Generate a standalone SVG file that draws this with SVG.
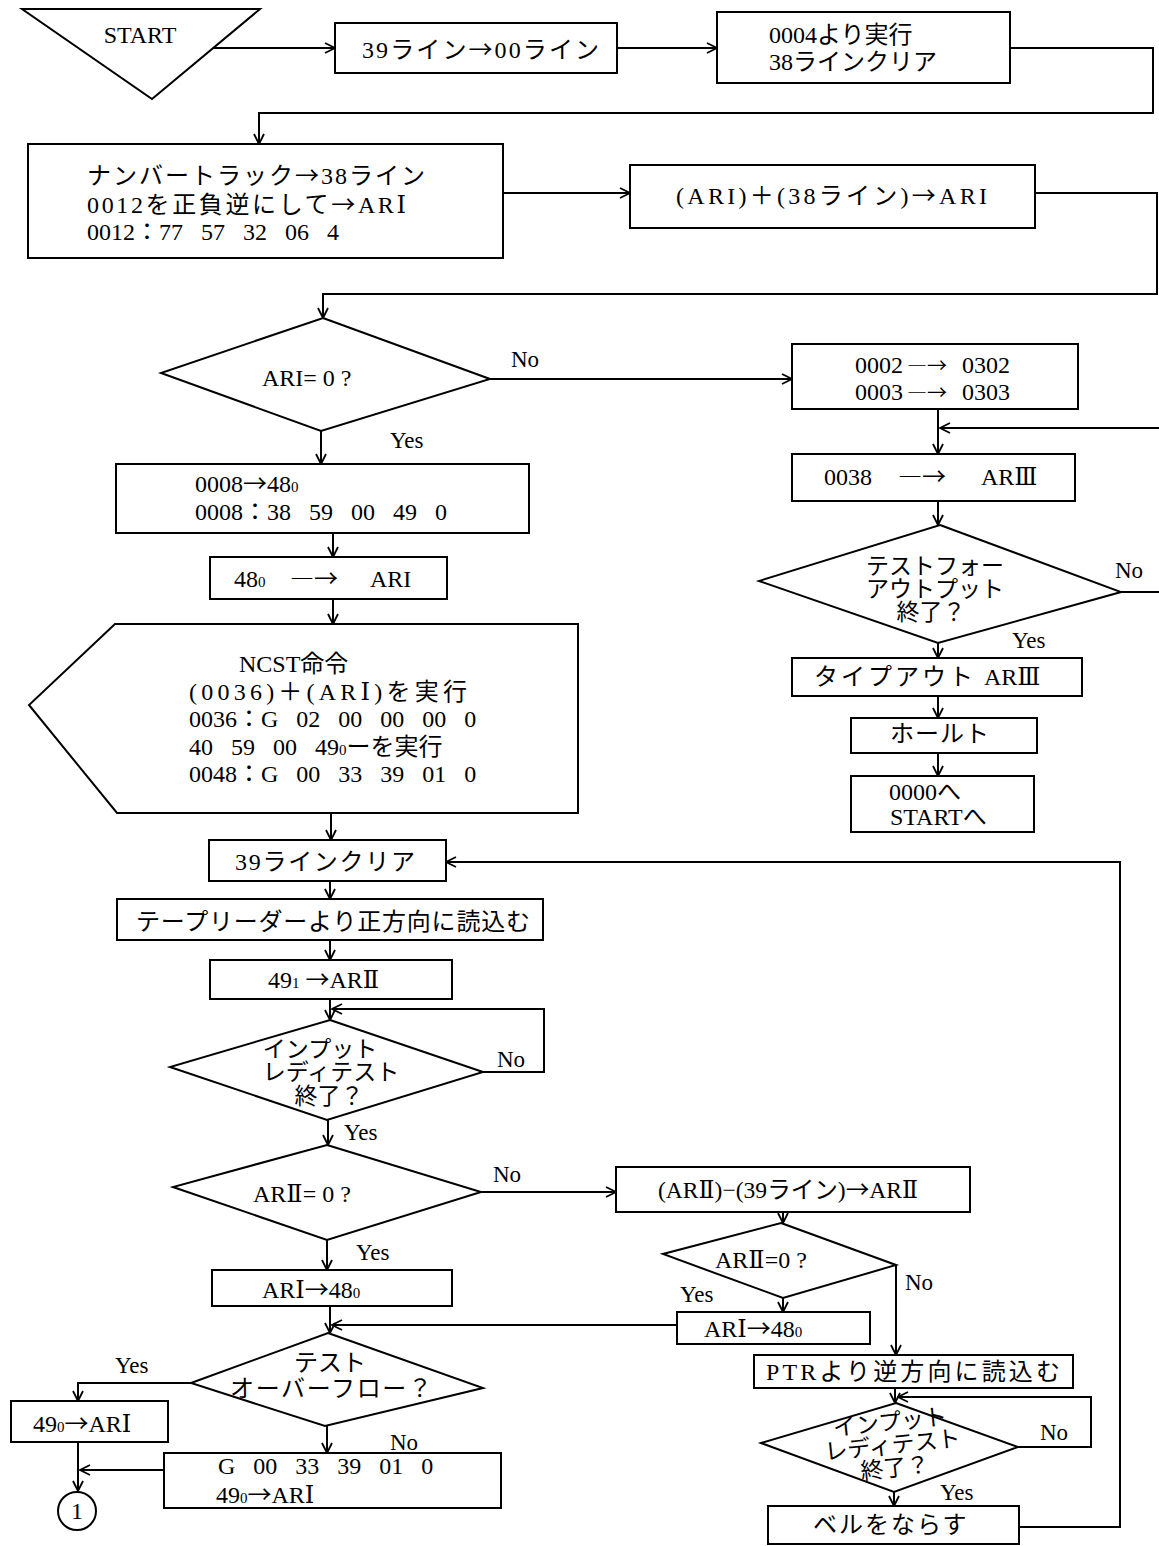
<svg xmlns="http://www.w3.org/2000/svg" width="1159" height="1546" viewBox="0 0 1159 1546">
<style>
.b{fill:#fff;stroke:#000;stroke-width:2}
.c{fill:none;stroke:#000;stroke-width:2}
.ar{marker-end:url(#a)}
text{font-family:'Liberation Serif','DejaVu Serif','Noto Sans CJK JP',serif;font-size:24px;fill:#000}
.j{font-family:'Noto Sans CJK JP',sans-serif}
.s{font-size:23px}
.n{word-spacing:12px}
.m{text-anchor:middle}
.sub{font-size:15px}
</style>
<defs>
<marker id="a" viewBox="0 0 12 12" refX="11" refY="6" markerWidth="12" markerHeight="12" markerUnits="userSpaceOnUse" orient="auto"><path d="M1,1 L11,6 L1,11" fill="none" stroke="#000" stroke-width="1.8"/></marker>
</defs>
<rect width="1159" height="1546" fill="#fff"/>
<g id="connectors" class="c">
<path class="ar" d="M213,48 H335"/>
<path class="ar" d="M617,48 H717"/>
<path class="ar" d="M1010,48 H1153 V113 H259 V144"/>
<path class="ar" d="M503,193 H630"/>
<path class="ar" d="M1035,193 H1157 V294 H323 V318"/>
<path class="ar" d="M490,379 H792"/>
<path class="ar" d="M321,431 V464"/>
<path class="ar" d="M333,533 V557"/>
<path class="ar" d="M333,599 V624"/>
<path class="ar" d="M331,813 V840"/>
<path class="ar" d="M330,881 V899"/>
<path class="ar" d="M330,940 V960"/>
<path class="ar" d="M330,999 V1020"/>
<path class="ar" d="M483,1072 H544 V1009 H332"/>
<path class="ar" d="M328,1120 V1145"/>
<path class="ar" d="M481,1192 H616"/>
<path class="ar" d="M327,1240 V1270"/>
<path class="ar" d="M330,1306 V1333"/>
<path class="ar" d="M677,1325 H332"/>
<path class="ar" d="M191,1383 H78 V1401"/>
<path class="ar" d="M327,1426 V1453"/>
<path class="ar" d="M78,1442 V1491"/>
<path class="ar" d="M164,1470 H80"/>
<path class="ar" d="M938,409 V454"/>
<path class="ar" d="M1159,428 H940"/>
<path class="ar" d="M938,501 V525"/>
<path d="M1121,592 H1159"/>
<path class="ar" d="M938,643 V658"/>
<path class="ar" d="M938,696 V718"/>
<path class="ar" d="M938,753 V776"/>
<path class="ar" d="M783,1212 V1223"/>
<path class="ar" d="M783,1298 V1312"/>
<path class="ar" d="M896,1265 V1355"/>
<path class="ar" d="M895,1388 V1403"/>
<path class="ar" d="M1018,1447 H1091 V1397 H898"/>
<path class="ar" d="M894,1492 V1506"/>
<path class="ar" d="M1019,1527 H1120 V862 H446"/>
</g>
<g id="labels">
<text class="s" x="511" y="367">No</text>
<text class="s" x="390" y="448">Yes</text>
<text class="s" x="1115" y="578">No</text>
<text class="s" x="1012" y="648">Yes</text>
<text class="s" x="497" y="1067">No</text>
<text class="s" x="344" y="1140">Yes</text>
<text class="s" x="493" y="1182">No</text>
<text class="s" x="356" y="1260">Yes</text>
<text class="s" x="905" y="1290">No</text>
<text class="s" x="680" y="1302">Yes</text>
<text class="s" x="115" y="1373">Yes</text>
<text class="s" x="390" y="1450">No</text>
<text class="s" x="1040" y="1440">No</text>
<text class="s" x="940" y="1500">Yes</text>
</g>
<g id="start"><polygon class="b" points="22,9 260,9 152,99"/><text class="m" x="140" y="43">START</text></g>
<g id="n1"><rect class="b" x="335" y="23" width="282" height="50"/><text x="362" y="58" textLength="237" lengthAdjust="spacing">39ライン<tspan class="j">→</tspan>00ライン</text></g>
<g id="n2"><rect class="b" x="717" y="12" width="293" height="71"/><text x="769" y="43">0004より実行</text><text x="769" y="70">38ラインクリア</text></g>
<g id="n3"><rect class="b" x="28" y="144" width="475" height="114"/>
<text x="87" y="184" textLength="338" lengthAdjust="spacing">ナンバートラック<tspan class="j">→</tspan>38ライン</text>
<text x="87" y="213" textLength="319" lengthAdjust="spacing">0012を正負逆にして<tspan class="j">→</tspan>ARⅠ</text>
<text class="n" x="87" y="240">0012：77 57 32 06 4</text></g>
<g id="n4"><rect class="b" x="630" y="165" width="405" height="63"/><text x="676" y="204" textLength="311" lengthAdjust="spacing">(ARI)＋(38ライン)<tspan class="j">→</tspan>ARI</text></g>
<g id="d1"><polygon class="b" points="323,318 490,379 321,431 161,373"/><text x="262" y="386">ARI= 0 ?</text></g>
<g id="n5"><rect class="b" x="116" y="464" width="413" height="69"/><text x="195" y="492">0008<tspan class="j">→</tspan>48<tspan class="sub">0</tspan></text><text class="n" x="195" y="520">0008：38 59 00 49 0</text></g>
<g id="n6"><rect class="b" x="210" y="557" width="237" height="42"/><text y="587"><tspan x="234">48</tspan><tspan class="sub">0</tspan><tspan class="j" x="290">―→</tspan><tspan x="370">ARI</tspan></text></g>
<g id="n7"><polygon class="b" points="115,624 578,624 578,813 117,813 29,705"/>
<text x="239" y="672">NCST命令</text>
<text x="189" y="700" textLength="278" lengthAdjust="spacing">(0036)＋(ARⅠ)を実行</text>
<text class="n" x="189" y="727">0036：G 02 00 00 00 0</text>
<text class="n" x="189" y="755">40 59 00 49<tspan class="sub">0</tspan>ーを実行</text>
<text class="n" x="189" y="782">0048：G 00 33 39 01 0</text></g>
<g id="n8"><rect class="b" x="209" y="840" width="237" height="41"/><text x="235" y="870" textLength="180" lengthAdjust="spacing">39ラインクリア</text></g>
<g id="n9"><rect class="b" x="117" y="899" width="426" height="41"/><text x="136" y="930" textLength="394" lengthAdjust="spacing">テープリーダーより正方向に読込む</text></g>
<g id="n10"><rect class="b" x="210" y="960" width="242" height="39"/><text x="268" y="988">49<tspan class="sub">1</tspan> <tspan class="j">→</tspan>ARⅡ</text></g>
<g id="d2"><polygon class="b" points="330,1020 483,1072 327,1120 170,1067"/>
<text class="s m" x="320" y="1057">インプット</text><text class="s m" x="331" y="1080">レディテスト</text><text class="s m" x="329" y="1104">終了？</text></g>
<g id="d3"><polygon class="b" points="327,1145 481,1192 327,1240 173,1187"/><text x="253" y="1202">ARⅡ= 0 ?</text></g>
<g id="n11"><rect class="b" x="212" y="1270" width="240" height="36"/><text x="262" y="1298">ARⅠ<tspan class="j">→</tspan>48<tspan class="sub">0</tspan></text></g>
<g id="d4"><polygon class="b" points="328,1333 483,1388 325,1426 191,1383"/>
<text class="m" x="330" y="1371">テスト</text><text x="230" y="1397" textLength="202" lengthAdjust="spacing">オーバーフロー？</text></g>
<g id="n12"><rect class="b" x="11" y="1401" width="157" height="41"/><text x="33" y="1432">49<tspan class="sub">0</tspan><tspan class="j">→</tspan>ARⅠ</text></g>
<g id="n13"><rect class="b" x="164" y="1453" width="337" height="55"/><text class="n" x="218" y="1474">G 00 33 39 01 0</text><text x="216" y="1503">49<tspan class="sub">0</tspan><tspan class="j">→</tspan>ARⅠ</text></g>
<g id="c1"><circle class="b" cx="77" cy="1511" r="19"/><text class="m" x="77" y="1519">1</text></g>
<g id="n14"><rect class="b" x="792" y="344" width="286" height="65"/>
<text y="373"><tspan x="855">0002</tspan><tspan class="j" x="907" font-size="20">―→</tspan><tspan x="962">0302</tspan></text>
<text y="400"><tspan x="855">0003</tspan><tspan class="j" x="907" font-size="20">―→</tspan><tspan x="962">0303</tspan></text></g>
<g id="n15"><rect class="b" x="792" y="454" width="283" height="47"/><text y="485"><tspan x="824">0038</tspan><tspan class="j" x="898">―→</tspan><tspan x="981">ARⅢ</tspan></text></g>
<g id="d5"><polygon class="b" points="940,525 1121,592 938,643 759,581"/>
<text class="s m" x="935" y="574">テストフォー</text><text class="s m" x="935" y="597">アウトプット</text><text class="s m" x="931" y="620">終了？</text></g>
<g id="n16"><rect class="b" x="792" y="658" width="290" height="38"/><text y="685"><tspan x="814" letter-spacing="3">タイプアウト</tspan><tspan x="984">ARⅢ</tspan></text></g>
<g id="n17"><rect class="b" x="851" y="718" width="186" height="35"/><text x="890" y="742" letter-spacing="1">ホールト</text></g>
<g id="n18"><rect class="b" x="851" y="776" width="183" height="56"/><text x="889" y="800">0000へ</text><text x="890" y="825">STARTへ</text></g>
<g id="n19"><rect class="b" x="616" y="1167" width="354" height="45"/><text x="658" y="1198" textLength="260" lengthAdjust="spacingAndGlyphs">(ARⅡ)−(39ライン)<tspan class="j">→</tspan>ARⅡ</text></g>
<g id="d6"><polygon class="b" points="781,1223 896,1265 783,1298 663,1254"/><text x="715" y="1268">ARⅡ=0 ?</text></g>
<g id="n20"><rect class="b" x="677" y="1312" width="193" height="32"/><text x="704" y="1337">ARⅠ<tspan class="j">→</tspan>48<tspan class="sub">0</tspan></text></g>
<g id="n21"><rect class="b" x="754" y="1355" width="319" height="33"/><text x="766" y="1380" textLength="294" lengthAdjust="spacing">PTRより逆方向に読込む</text></g>
<g id="d7"><polygon class="b" points="896,1403 1018,1447 894,1492 761,1443"/>
<g transform="rotate(-6 893 1450)"><text class="s m" x="893" y="1430">インプット</text><text class="s m" x="893" y="1453">レディテスト</text><text class="s m" x="893" y="1476">終了？</text></g></g>
<g id="n22"><rect class="b" x="768" y="1506" width="251" height="38"/><text x="813" y="1533" letter-spacing="2">ベルをならす</text></g>
</svg>
